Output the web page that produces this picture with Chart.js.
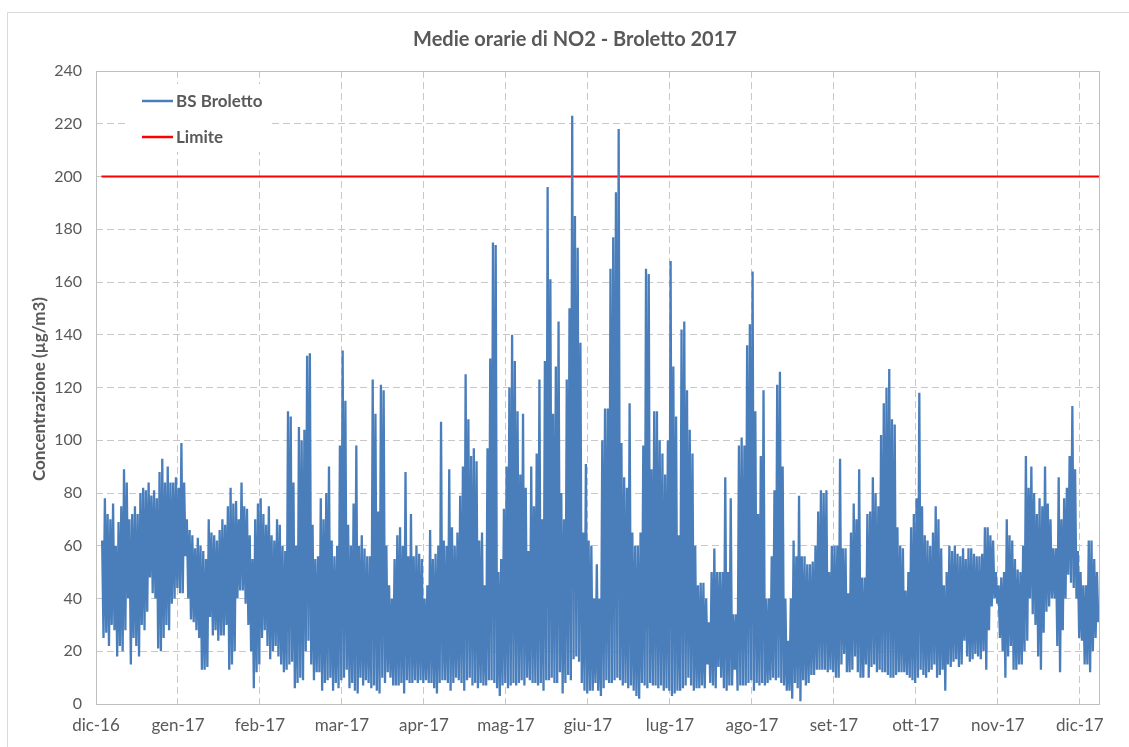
<!DOCTYPE html>
<html>
<head>
<meta charset="utf-8">
<script src="https://cdn.jsdelivr.net/npm/chart.js@4.4.1/dist/chart.umd.min.js"></script>
<style>
html,body{margin:0;padding:0;background:#fff;}
#wrap{position:relative;width:1129px;height:747px;}
</style>
</head>
<body>
<div id="wrap"><canvas id="c" width="1129" height="747"></canvas></div>
<script>
// ---- text ----
const chartTitle = 'Medie orarie di NO2 - Broletto 2017';
const yAxisTitle = 'Concentrazione (µg/m3)';
const seriesNames = ['BS Broletto', 'Limite'];

// ---- x axis: days counted from 30/12/2016, one tick every 30 days ----
const monthLabels = ['dic-16','gen-17','feb-17','mar-17','apr-17','mag-17','giu-17','lug-17','ago-17','set-17','ott-17','nov-17','dic-17'];
const tickStepDays = 30;
const axisEndDay = 367;
const firstDay = 2; // 01/01/2017

// ---- y axis ----
const yMin = 0, yMax = 240, yStep = 20;

// ---- series: daily highest and lowest hourly value (µg/m3), 01/01/2017 .. 31/12/2017 ----
const dailyMax = [
62,78,72,70,76,60,69,75,89,84,70,72,75,72,80,82,81,84,79,81,78,88,93,84,90,84,84,86,82,99,84,70,66,64,59,63,60,58,55,70,65,64,62,66,
70,68,75,82,76,77,70,84,75,74,64,55,70,76,78,72,68,75,64,62,70,68,60,58,111,109,84,60,105,100,104,132,133,68,55,56,78,70,80,90,62,56,60,98,134,115,
68,60,76,98,60,64,59,56,56,123,110,73,121,119,60,45,40,55,64,67,60,88,56,72,56,60,57,55,40,45,66,55,57,60,107,62,60,89,67,60,65,79,90,125,108,94,
97,92,62,65,45,97,131,175,174,50,55,74,90,120,140,130,111,87,110,82,58,90,75,95,123,70,130,196,161,110,128,145,80,70,123,150,223,185,173,137,65,91,62,60,40,
53,40,100,112,112,165,177,194,218,99,86,82,114,65,60,60,65,98,165,163,89,111,111,100,95,87,100,168,128,109,64,142,145,119,104,95,60,45,46,46,40,31,50,59,50,50,
50,86,50,78,34,34,98,101,98,136,144,164,111,72,94,119,40,40,56,81,121,126,90,40,24,40,62,56,79,56,56,53,53,54,60,73,81,80,81,50,60,60,60,93,59,59,
42,65,76,70,89,48,48,72,73,86,80,75,102,114,120,127,108,106,67,60,59,43,50,67,72,78,118,75,64,62,60,65,75,70,59,45,50,60,58,60,57,56,59,55,59,
59,57,56,56,57,67,67,64,62,50,45,48,50,70,64,62,55,51,50,60,94,82,90,80,72,78,75,90,76,70,59,59,86,70,78,82,94,113,89,58,50,45,45,62,62,55,50
];
const dailyMin = [
25,27,22,30,28,18,22,20,28,40,15,25,22,18,30,28,35,48,42,40,21,20,25,30,28,38,40,44,42,42,56,40,32,31,28,25,13,13,14,33,26,28,24,26,
26,30,13,15,20,40,43,43,38,30,20,6,12,15,25,28,22,17,20,22,18,15,12,13,15,16,6,8,10,9,20,24,15,9,12,12,5,8,9,10,5,8,6,9,10,13,
6,8,5,4,10,7,9,8,6,7,5,4,10,8,12,10,7,7,7,8,4,9,8,8,9,8,9,8,9,8,8,6,4,8,9,9,8,5,8,10,9,8,5,9,10,7,
8,6,8,7,7,9,9,8,6,3,7,8,6,7,8,7,8,9,7,10,9,8,8,7,8,5,9,9,10,8,8,12,4,8,11,9,17,18,16,8,5,4,5,5,8,
5,3,6,9,8,8,9,10,9,7,8,6,7,5,3,2,8,7,6,8,7,7,6,7,5,6,5,3,4,5,5,6,7,10,7,5,6,6,7,6,15,8,7,6,14,10,
6,5,7,7,13,5,7,7,7,8,9,5,8,7,8,7,8,9,10,9,10,8,7,5,5,2,8,6,1,9,7,8,11,11,13,13,13,13,12,13,12,10,10,15,19,12,
12,13,18,12,10,10,15,10,14,15,12,13,12,12,11,10,10,11,12,12,12,11,10,9,8,10,13,11,10,12,13,15,10,11,13,5,15,14,16,17,14,15,24,18,16,
17,19,18,17,20,13,28,37,40,38,25,20,10,18,22,13,13,15,15,20,24,40,34,30,18,13,27,35,37,40,40,22,12,28,40,49,46,44,40,25,24,15,15,12,20,25,31
];
const limitValue = 200;

// ---- styles ----
const FONT = 'Lato, "Liberation Sans", sans-serif';
const TEXT = '#595959';
const BLUE = '#4a7ebb';
const RED = '#ff0000';
const GRID = '#c8c8c8';

// build datasets from the arrays
const broletto = [];
dailyMax.forEach((v, i) => {
  broletto.push({x: firstDay + i + 0.25, y: v});
  broletto.push({x: firstDay + i + 0.75, y: dailyMin[i]});
});
const limite = [{x: firstDay, y: limitValue}, {x: firstDay + dailyMax.length, y: limitValue}];

const decor = {
  id: 'decor',
  beforeDatasetsDraw(chart) {
    const ctx = chart.ctx;
    // legend inside plot
    ctx.save();
    ctx.fillStyle = '#fff';
    ctx.fillRect(128, 84, 144, 68);
    const items = [[seriesNames[0], BLUE, 101], [seriesNames[1], RED, 137]];
    items.forEach(([label, col, y]) => {
      ctx.strokeStyle = col; ctx.lineWidth = 2.5;
      ctx.beginPath(); ctx.moveTo(142, y); ctx.lineTo(173, y); ctx.stroke();
      ctx.fillStyle = TEXT; ctx.font = 'bold 17px ' + FONT;
      ctx.textAlign = 'left'; ctx.textBaseline = 'middle';
      ctx.fillText(label, 176, y + 1);
    });
    ctx.restore();
  },
  afterDraw(chart) {
    const ctx = chart.ctx;
    const a = chart.chartArea;
    ctx.save();
    // plot border
    ctx.strokeStyle = '#bfbfbf'; ctx.lineWidth = 1;
    ctx.strokeRect(Math.round(a.left) + 0.5, Math.round(a.top) + 0.5, Math.round(a.right - a.left), Math.round(a.bottom - a.top));
    // outer chart border
    ctx.strokeStyle = '#d9d9d9';
    ctx.beginPath(); ctx.moveTo(7.5, 747); ctx.lineTo(7.5, 12.5); ctx.lineTo(1129, 12.5); ctx.stroke();
    // title
    ctx.fillStyle = TEXT; ctx.font = 'bold 20px ' + FONT;
    ctx.textAlign = 'center'; ctx.textBaseline = 'middle';
    ctx.fillText(chartTitle, 575, 40);
    // y axis title
    ctx.translate(40, 389); ctx.rotate(-Math.PI / 2);
    ctx.font = 'bold 17px ' + FONT;
    ctx.fillText(yAxisTitle, 0, 0);
    ctx.restore();
  }
};

new Chart(document.getElementById('c'), {
  type: 'line',
  data: {
    datasets: [
      {label: seriesNames[0], data: broletto, borderColor: BLUE, borderWidth: 2.3, pointRadius: 0, tension: 0, fill: false},
      {label: seriesNames[1], data: limite, borderColor: RED, borderWidth: 2, pointRadius: 0, tension: 0, fill: false}
    ]
  },
  options: {
    responsive: false,
    animation: false,
    devicePixelRatio: 1,
    layout: {padding: {left: 0, top: 71, right: 30, bottom: 0}},
    plugins: {legend: {display: false}, title: {display: false}, tooltip: {enabled: false}},
    scales: {
      x: {
        type: 'linear', min: 0, max: axisEndDay,
        afterBuildTicks: s => { s.ticks = monthLabels.map((_, i) => ({value: i * tickStepDays})); },
        afterFit: s => { s.height = 43; },
        ticks: {autoSkip: false, maxRotation: 0, minRotation: 0, padding: 11,
          color: TEXT, font: {family: FONT, size: 17},
          callback: (v, i) => monthLabels[i]},
        grid: {color: GRID, lineWidth: 1, drawTicks: false},
        border: {display: false, dash: [7, 4]}
      },
      y: {
        min: yMin, max: yMax,
        afterFit: s => { s.width = 96; },
        ticks: {stepSize: yStep, padding: 14, color: TEXT, font: {family: FONT, size: 16}},
        grid: {color: GRID, lineWidth: 1, drawTicks: false},
        border: {display: false, dash: [7, 4]}
      }
    }
  },
  plugins: [decor]
});
</script>
</body>
</html>
